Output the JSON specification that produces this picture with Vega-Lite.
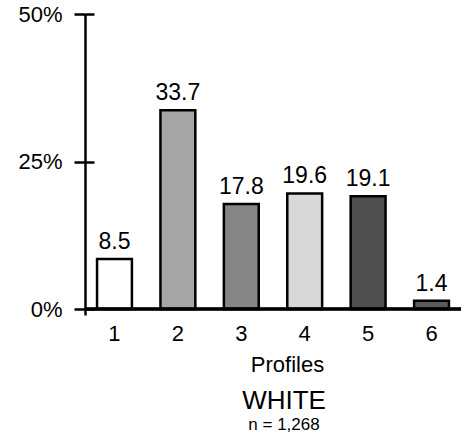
{
  "$schema": "https://vega.github.io/schema/vega-lite/v6.json",
  "autosize": "none",
  "width": 376,
  "height": 301,
  "padding": {"left": 85, "top": 14, "right": 3, "bottom": 123},
  "background": "white",
  "config": {
    "view": {"stroke": null},
    "font": "Liberation Sans",
    "axis": {"labelFont": "Liberation Sans", "titleFont": "Liberation Sans", "labelColor": "black", "titleColor": "black"}
  },
  "title": {
    "text": "WHITE",
    "subtitle": "n = 1,268",
    "orient": "bottom",
    "anchor": "middle",
    "dx": 11,
    "offset": 13,
    "font": "Liberation Sans",
    "fontSize": 26,
    "fontWeight": "normal",
    "color": "black",
    "subtitleFont": "Liberation Sans",
    "subtitleFontSize": 17,
    "subtitleColor": "black",
    "subtitlePadding": 3
  },
  "data": {
    "values": [
      {"profile": "1", "percent": 8.5},
      {"profile": "2", "percent": 33.7},
      {"profile": "3", "percent": 17.8},
      {"profile": "4", "percent": 19.6},
      {"profile": "5", "percent": 19.1},
      {"profile": "6", "percent": 1.4}
    ]
  },
  "layer": [
    {
      "mark": {"type": "bar", "stroke": "black", "strokeWidth": 2.5},
      "encoding": {
        "x": {
          "field": "profile",
          "type": "ordinal",
          "scale": {"paddingInner": 0.45, "paddingOuter": 0.19},
          "axis": {
            "labelAngle": 0,
            "labelFontSize": 22,
            "labelPadding": 8,
            "domain": false,
            "ticks": false,
            "title": "Profiles",
            "titleFontSize": 22,
            "titleFontWeight": "normal",
            "titlePadding": 10,
            "titleX": 202
          }
        },
        "y": {
          "field": "percent",
          "type": "quantitative",
          "scale": {"domain": [-1, 50], "nice": false, "zero": false},
          "axis": {
            "values": [0, 25, 50],
            "labelExpr": "datum.value + '%'",
            "labelFontSize": 22,
            "labelPadding": 12,
            "tickSize": 11,
            "tickWidth": 2.5,
            "tickColor": "black",
            "domainWidth": 2.5,
            "domainColor": "black",
            "grid": true,
            "gridColor": "black",
            "gridWidth": 2.5,
            "gridOpacity": 1,
            "gridDash": [9, 2000],
            "title": null
          }
        },
        "fill": {
          "field": "profile",
          "type": "nominal",
          "scale": {"range": ["#ffffff", "#a6a6a6", "#858585", "#d8d8d8", "#505050", "#5a5a5a"]},
          "legend": null
        }
      }
    },
    {
      "mark": {"type": "rule", "stroke": "black", "strokeWidth": 2.5},
      "encoding": {
        "y": {"datum": 0, "type": "quantitative"}
      }
    },
    {
      "mark": {"type": "text", "baseline": "alphabetic", "dy": -10, "fontSize": 23, "font": "Liberation Sans", "color": "black"},
      "encoding": {
        "x": {"field": "profile", "type": "ordinal"},
        "y": {"field": "percent", "type": "quantitative"},
        "text": {"field": "percent", "type": "quantitative", "format": ".1f"}
      }
    }
  ]
}
